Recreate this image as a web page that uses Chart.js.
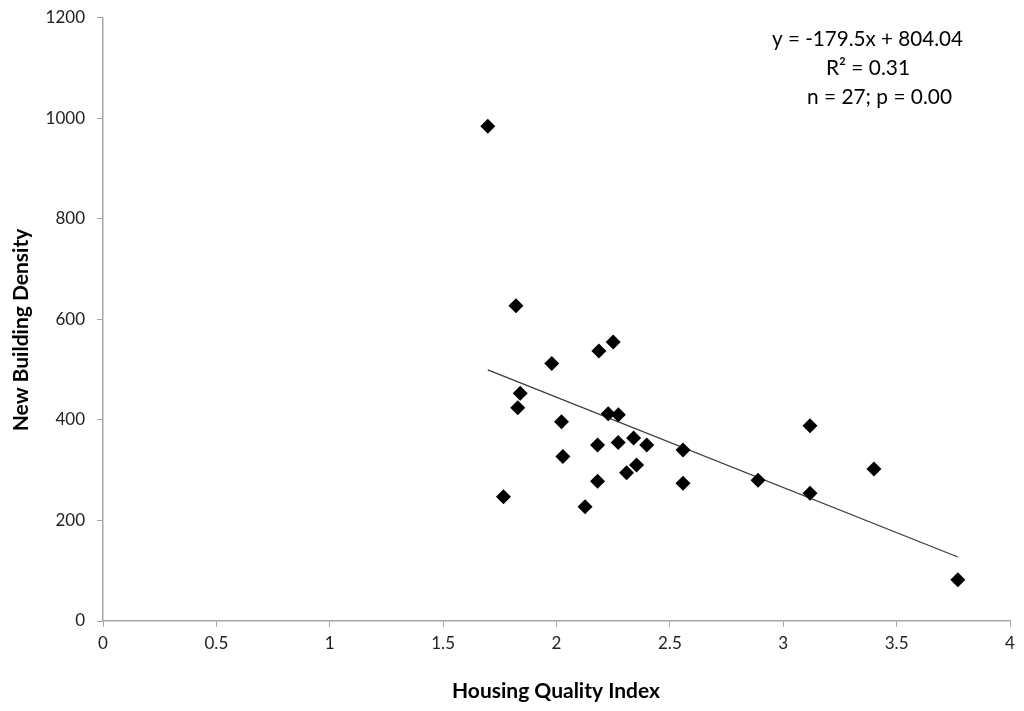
<!DOCTYPE html>
<html>
<head>
<meta charset="utf-8">
<script src="https://cdn.jsdelivr.net/npm/chart.js@4.4.1/dist/chart.umd.min.js"></script>
<style>
  html, body { margin: 0; padding: 0; background: #fff; }
  #wrap { width: 1024px; height: 711px; }
</style>
</head>
<body>
<div id="wrap"><canvas id="chart" width="1024" height="711"></canvas></div>
<script>
// Housing quality vs new building density
const qualityIndex = [
  1.697, 1.821, 1.766, 1.840, 1.829, 1.979, 2.022, 2.028, 2.126,
  2.187, 2.250, 2.228, 2.273, 2.181, 2.272, 2.181, 2.340, 2.398,
  2.309, 2.353, 2.558, 2.558, 2.889, 3.118, 3.118, 3.400, 3.770
];
const buildingDensity = [
  984, 627, 247, 453, 424, 512, 396, 327, 227,
  537, 555, 412, 410, 350, 355, 278, 364, 350,
  295, 310, 340, 274, 280, 388, 254, 302, 82
];
// fitted line endpoints (y = -179.5x + 804.04 over the data range)
const trendX = [1.697, 3.770];
const trendY = [499.4, 127.3];
const fitLabels = ["y = -179.5x + 804.04", "R² = 0.31", "n = 27; p = 0.00"];

const FONT = "Lato, 'Liberation Sans', sans-serif";
const axisGray = "#a6a6a6";

const labelsPlugin = {
  id: "labels",
  afterDraw(chart) {
    const ctx = chart.ctx;
    ctx.save();
    ctx.fillStyle = "#000";
    ctx.textBaseline = "middle";

    // regression text block
    ctx.font = `22px ${FONT}`;
    ctx.textAlign = "left";
    ctx.fillText(fitLabels[0], 772, 39, 191);
    ctx.fillText(fitLabels[1], 826, 68, 84);
    ctx.fillText(fitLabels[2], 807, 97, 145);

    // axis titles
    ctx.font = `bold 21px ${FONT}`;
    ctx.textAlign = "center";
    ctx.fillText("Housing Quality Index", 556, 691, 217);

    ctx.translate(21, 330);
    ctx.rotate(-Math.PI / 2);
    ctx.fillText("New Building Density", 0, 0, 210);
    ctx.restore();
  }
};

new Chart(document.getElementById("chart"), {
  type: "scatter",
  data: {
    datasets: [
      {
        label: "points",
        data: qualityIndex.map((x, i) => ({ x, y: buildingDensity[i] })),
        pointStyle: "rectRot",
        pointRadius: 7.5,
        pointHoverRadius: 7.5,
        backgroundColor: "#000",
        borderColor: "#000",
        borderWidth: 0,
        order: 1
      },
      {
        type: "line",
        label: "trend",
        data: trendX.map((x, i) => ({ x, y: trendY[i] })),
        borderColor: "#3a3a3a",
        borderWidth: 1.2,
        pointRadius: 0,
        fill: false,
        order: 2
      }
    ]
  },
  options: {
    responsive: false,
    animation: false,
    devicePixelRatio: 1,
    layout: { padding: { top: 17.5, right: 14, left: 0, bottom: 0 } },
    plugins: {
      legend: { display: false },
      tooltip: { enabled: false }
    },
    scales: {
      x: {
        type: "linear",
        min: 0,
        max: 4,
        ticks: {
          stepSize: 0.5,
          color: "#222",
          font: { family: FONT, size: 17 },
          padding: 6,
          callback: v => String(v)
        },
        grid: { drawOnChartArea: false, drawTicks: true, tickLength: 6, color: axisGray },
        border: { color: axisGray, width: 1.5 },
        afterFit(scale) {
          scale.height = 90;
          scale.paddingLeft = 0;
          scale.paddingRight = 0;
        }
      },
      y: {
        min: 0,
        max: 1200,
        ticks: {
          stepSize: 200,
          color: "#222",
          font: { family: FONT, size: 17 },
          padding: 12,
          callback: v => String(v)
        },
        grid: { drawOnChartArea: false, drawTicks: true, tickLength: 6, color: axisGray },
        border: { color: axisGray, width: 1.5 },
        afterFit(scale) {
          scale.width = 103;
          scale.paddingTop = 0;
          scale.paddingBottom = 0;
        }
      }
    }
  },
  plugins: [labelsPlugin]
});
</script>
</body>
</html>
